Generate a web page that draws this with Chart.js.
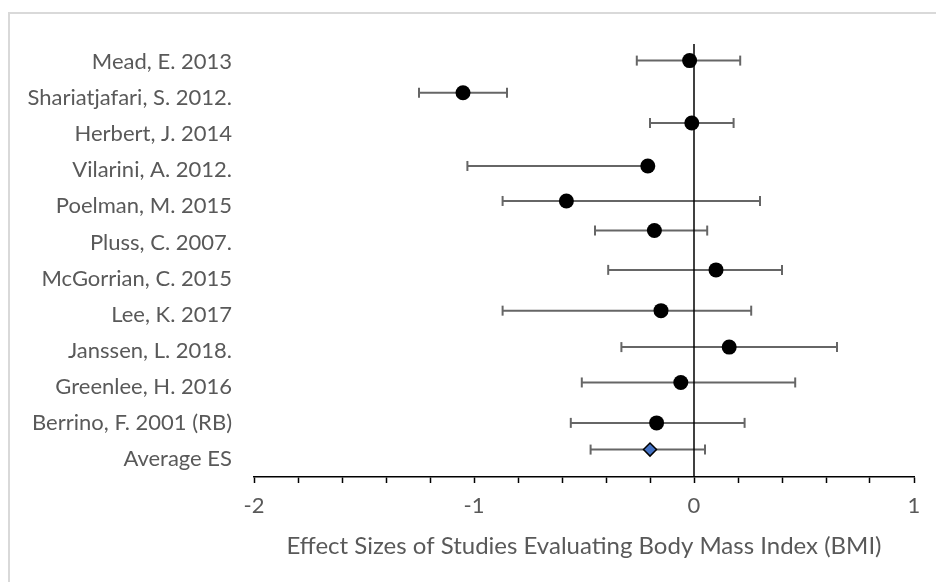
<!DOCTYPE html>
<html>
<head>
<meta charset="utf-8">
<script src="https://cdn.jsdelivr.net/npm/chart.js@4.4.1/dist/chart.umd.min.js"></script>
<style>
  html, body { margin: 0; padding: 0; background: #fff; overflow: hidden; }
  #frame { position: absolute; left: 8px; top: 12px; width: 960px; height: 600px;
           border-left: 2px solid #d9d9d9; border-top: 2px solid #d9d9d9; }
  #plot { position: absolute; left: 0; top: 0; }
</style>
</head>
<body>
<div id="frame"></div>
<canvas id="plot" width="936" height="582"></canvas>
<script>
// study labels, top to bottom
const studies = ['Mead, E. 2013', 'Shariatjafari, S. 2012.', 'Herbert, J. 2014', 'Vilarini, A. 2012.',
  'Poelman, M. 2015', 'Pluss, C. 2007.', 'McGorrian, C. 2015', 'Lee, K. 2017',
  'Janssen, L. 2018.', 'Greenlee, H. 2016', 'Berrino, F. 2001 (RB)', 'Average ES']
// effect sizes and CI ends
const effect = [-0.02, -1.05, -0.01, -0.21, -0.58, -0.18, 0.10, -0.15, 0.16, -0.06, -0.17, -0.20]
const lower  = [-0.26, -1.25, -0.20, -1.03, -0.87, -0.45, -0.39, -0.87, -0.33, -0.51, -0.56, -0.47]
const upper  = [ 0.21, -0.85,  0.18, -0.21,  0.30,  0.06,  0.40,  0.26,  0.65,  0.46,  0.23,  0.05]
// vertical position of each marker (scatter y value, 0..12)
const rowY   = [11.54, 10.65, 9.81, 8.62, 7.65, 6.83, 5.74, 4.61, 3.60, 2.62, 1.50, 0.76]
const xTicks = [-2, -1, 0, 1]

const font = { family: 'Lato', size: 22 }
const textColor = '#595959'

let barSets = studies.map((s, i) => ({
  type: 'line',
  data: [{ x: lower[i], y: rowY[i] }, { x: upper[i], y: rowY[i] }],
  borderColor: '#666',
  borderWidth: 2,
  pointStyle: 'line',
  rotation: 90,
  pointRadius: 5,
  pointBorderColor: '#666',
  pointBorderWidth: 2,
  order: 3,
  clip: false
}))

let zeroLine = {
  type: 'line',
  data: [{ x: 0, y: 0 }, { x: 0, y: 12 }],
  borderColor: '#000',
  borderWidth: 1.5,
  pointRadius: 0,
  order: 2
}

let points = {
  type: 'scatter',
  data: studies.map((s, i) => ({ x: effect[i], y: rowY[i] })),
  pointStyle: studies.map((s, i) => i == studies.length - 1 ? 'rectRot' : 'circle'),
  pointRadius: studies.map((s, i) => i == studies.length - 1 ? 6.5 : 7.5),
  backgroundColor: studies.map((s, i) => i == studies.length - 1 ? '#4472c4' : '#000'),
  borderColor: '#000',
  borderWidth: studies.map((s, i) => i == studies.length - 1 ? 1.5 : 0),
  order: 1,
  clip: false
}

new Chart(document.getElementById('plot'), {
  type: 'scatter',
  data: { datasets: [...barSets, zeroLine, points] },
  options: {
    responsive: false,
    animation: false,
    layout: { padding: { top: 44, right: 22, left: 0, bottom: 0 } },
    plugins: { legend: { display: false }, tooltip: { enabled: false } },
    scales: {
      x: {
        type: 'linear',
        min: -2, max: 1,
        afterFit: s => { s.height = 105 },
        ticks: {
          stepSize: 0.2, autoSkip: false, maxRotation: 0,
          color: textColor, font: font, padding: 10,
          callback: v => {
            let r = Math.round(v)
            return Math.abs(v - r) < 1e-6 && xTicks.includes(r) ? String(r) : ''
          }
        },
        grid: { drawOnChartArea: false, drawTicks: true, tickLength: 6, tickColor: '#000', tickWidth: 1.5 },
        border: { display: true, color: '#000', width: 1.5 },
        title: {
          display: true, text: 'Effect Sizes of Studies Evaluating Body Mass Index (BMI)',
          color: textColor, font: { family: 'Lato', size: 24 }, padding: { top: 21, bottom: 21 }
        }
      },
      y: { type: 'linear', min: 0, max: 12, display: false },
      yl: {
        type: 'category',
        position: 'left',
        labels: studies,
        offset: true,
        afterFit: s => { s.width = 254 },
        grid: { display: false, drawTicks: false },
        border: { display: false },
        ticks: { color: textColor, font: font, padding: 22, autoSkip: false }
      }
    }
  }
})
</script>
</body>
</html>
